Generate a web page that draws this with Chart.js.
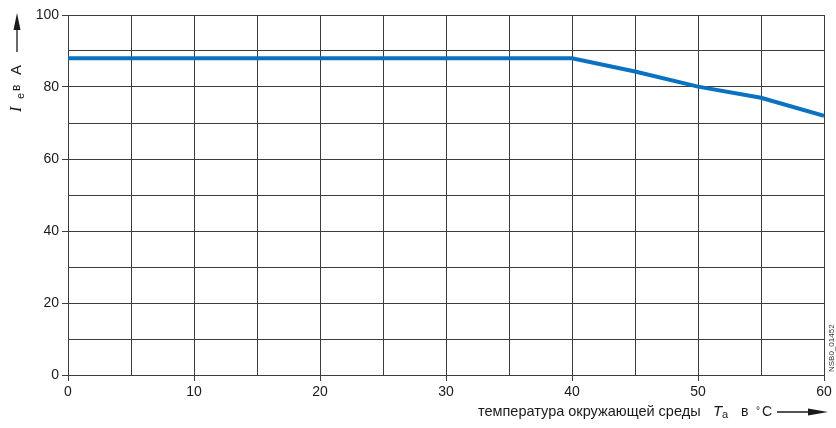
<!DOCTYPE html>
<html><head><meta charset="utf-8">
<script src="https://cdn.jsdelivr.net/npm/chart.js@4"></script>
<style>html,body{margin:0;padding:0;background:#fff}#wrap{width:836px;height:428px;position:relative}</style>
</head><body><div id="wrap"><canvas id="c" width="836" height="428"></canvas></div>
<script>
const temperatures = [0, 40, 45, 50, 55, 60];
const currentA = [88, 88, 84.3, 80.1, 77, 72];
const xTickLabels = [0, 10, 20, 30, 40, 50, 60];
const yTickLabels = [0, 20, 40, 60, 80, 100];

const gridCol = '#3c3c3c';
const txtCol = '#1a1a1a';
const FONT = "'Liberation Sans', Arial, sans-serif";

const titles = {
  id: 'titles',
  afterDraw(chart) {
    const c = chart.ctx;
    c.save();
    c.fillStyle = txtCol; c.strokeStyle = txtCol;
    // Y title (rotated)
    c.translate(17, 112);
    c.rotate(-Math.PI / 2);
    c.textBaseline = 'middle'; c.textAlign = 'left';
    c.font = "italic 16px 'Liberation Serif', serif";
    c.fillText('I', 0, 0);
    c.font = '11px ' + FONT;
    c.fillText('e', 13, 4);
    c.font = '12px ' + FONT;
    c.fillText('в', 21, 0);
    c.font = '15px ' + FONT;
    c.fillText('A', 37, 0);
    c.lineWidth = 1.3;
    c.beginPath(); c.moveTo(60, 0); c.lineTo(86, 0); c.stroke();
    c.beginPath(); c.moveTo(99, 0); c.lineTo(82, -3.5); c.lineTo(82, 3.5); c.closePath(); c.fill();
    c.restore();

    // X title
    c.save();
    c.fillStyle = txtCol; c.strokeStyle = txtCol;
    c.textBaseline = 'middle'; c.textAlign = 'left';
    const y = 412;
    c.font = '14.5px ' + FONT;
    c.fillText('температура окружающей среды', 478, y);
    c.font = "italic 15px " + FONT;
    c.fillText('T', 713, y);
    c.font = '11px ' + FONT;
    c.fillText('a', 722, y + 3);
    c.font = '14px ' + FONT;
    c.fillText('в', 741, y);
    c.font = '10px ' + FONT;
    c.fillText('°', 756, y - 1);
    c.font = '14px ' + FONT;
    c.fillText('C', 762, y);
    c.lineWidth = 1.3;
    c.beginPath(); c.moveTo(777, y); c.lineTo(812, y); c.stroke();
    c.beginPath(); c.moveTo(828, y); c.lineTo(808, y - 3.5); c.lineTo(808, y + 3.5); c.closePath(); c.fill();
    c.restore();

    // Drawing code (rotated)
    c.save();
    c.fillStyle = '#333';
    c.translate(832, 372);
    c.rotate(-Math.PI / 2);
    c.textBaseline = 'middle'; c.textAlign = 'left';
    c.font = '8px ' + FONT;
    c.fillText('NSB0_01452', 0, 0);
    c.restore();
  }
};

new Chart(document.getElementById('c'), {
  type: 'line',
  data: {
    datasets: [{
      data: temperatures.map((t, i) => ({ x: t, y: currentA[i] })),
      borderColor: '#0a72c1',
      borderWidth: 4,
      pointRadius: 0,
      tension: 0,
      fill: false
    }]
  },
  options: {
    responsive: false,
    animation: false,
    layout: { padding: { left: 0, top: 15, right: 12, bottom: 31 } },
    plugins: { legend: { display: false }, tooltip: { enabled: false } },
    scales: {
      x: {
        type: 'linear', min: 0, max: 60,
        afterFit(s) { s.height = 22; },
        ticks: {
          stepSize: 5, autoSkip: false, maxRotation: 0, padding: 3,
          color: txtCol, font: { family: FONT, size: 14 },
          callback: v => xTickLabels.includes(v) ? String(v) : ''
        },
        grid: {
          color: gridCol, lineWidth: 1, tickLength: 6,
          tickColor: ctx => (ctx.tick && xTickLabels.includes(ctx.tick.value)) ? gridCol : 'rgba(0,0,0,0)'
        },
        border: { color: gridCol, width: 1 }
      },
      y: {
        min: 0, max: 100,
        afterFit(s) { s.width = 68; },
        ticks: {
          stepSize: 10, autoSkip: false, padding: 3,
          color: txtCol, font: { family: FONT, size: 14 },
          callback: v => yTickLabels.includes(v) ? String(v) : ''
        },
        grid: {
          color: gridCol, lineWidth: 1, tickLength: 6,
          tickColor: ctx => (ctx.tick && yTickLabels.includes(ctx.tick.value)) ? gridCol : 'rgba(0,0,0,0)'
        },
        border: { color: gridCol, width: 1 }
      }
    }
  },
  plugins: [titles]
});
</script></body></html>
